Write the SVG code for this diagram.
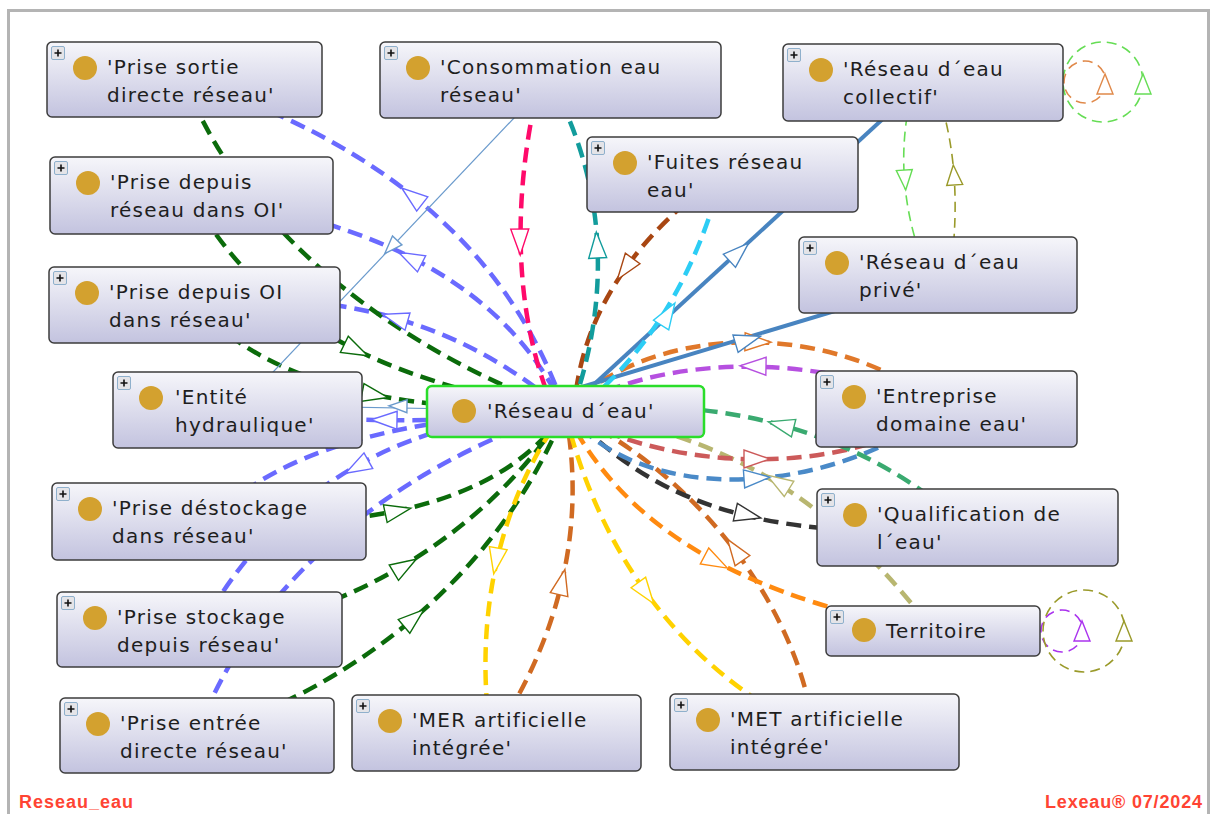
<svg xmlns="http://www.w3.org/2000/svg" xmlns:xlink="http://www.w3.org/1999/xlink" width="1210" height="814" viewBox="0 0 1210 814">
<defs>
<linearGradient id="g" x1="0" y1="0" x2="0" y2="1"><stop offset="0" stop-color="#f6f6fa"/><stop offset="1" stop-color="#c3c3df"/></linearGradient>
<g id="plus"><rect x="0.5" y="0.5" width="13" height="13" rx="1.5" fill="#e4e4e8" stroke="#8fb0cc" stroke-width="1"/><path d="M3.5,7h7M7,3.5v7" stroke="#111" stroke-width="1.6"/></g>
<path id="a" d="M13,0 L-13,-9 L-13,9 Z"/>
<path id="s" d="M10,0 L-10,-8 L-10,8 Z"/>
<path id="t" d="M9,0 L-9,-6.5 L-9,6.5 Z"/>
</defs>
<style>
.b{fill:url(#g);stroke:#3c3c3c;stroke-width:1.5}
.ctr{fill:url(#g);stroke:#2add2a;stroke-width:2.5}
.dot{fill:#d3a12f}
text{font-family:"DejaVu Sans","Liberation Sans",sans-serif;font-size:20px;letter-spacing:1.25px;fill:#1e1e1e}
.ft{font-family:"Liberation Sans",Arial,sans-serif;font-weight:bold;font-size:18px;letter-spacing:0;fill:#ff4433}
.c{fill:none;stroke-width:4.5;stroke-dasharray:15 8}
.sol{fill:none;stroke-width:4}
.thin{fill:none;stroke-width:1.2}
.loop{fill:none;stroke-width:1.6;stroke-dasharray:10 6}
.ar{fill:#fff;stroke-width:1.4}
.bl{stroke:#6a6aff}.gr{stroke:#0b6b0b}.pk{stroke:#ff0a6a}.tl{stroke:#129c9c}.si{stroke:#a84612}
.cy{stroke:#2ccdf5}.sb{stroke:#4884c0}.or{stroke:#ff8a10}.or2{stroke:#e0782a}.ch{stroke:#d06a22}
.pu{stroke:#b650e0}.sg{stroke:#3aaa70}.rd{stroke:#cc5a5a}.sd{stroke:#4a8ac8}.kh{stroke:#b8b670}
.bk{stroke:#333}.ye{stroke:#ffd200}.ts{stroke:#6a9acc}
.lg{stroke:#66dd55}.lo{stroke:#e0894a}.lp{stroke:#aa33ee}.lv{stroke:#9a9a2a}
</style>
<rect x="0" y="0" width="1210" height="814" fill="#fff"/>
<rect x="8.5" y="10.5" width="1200" height="820" fill="#fff" stroke="#b4b4b4" stroke-width="3"/>

<g id="connectors">
<path class="c bl" d="M184,79 Q485,175 565,411"/>
<path class="c bl" d="M191,196 Q482,232 565,411"/>
<path class="c bl" d="M194,305 Q410,278 565,411"/>
<path class="c gr" d="M184,79 C230,200 350,330 565,411"/>
<path class="c gr" d="M191,196 C230,260 300,370 565,411"/>
<path class="c gr" d="M194,305 C250,360 330,410 565,411"/>
<path class="thin ts" d="M550,80 L237,410"/>
<path class="thin ts" d="M565,411 L237,405"/>
<path class="c bl" d="M565,411 Q400,430 237,410"/>
<path class="c bl" d="M209,521 C260,470 350,420 565,411"/>
<path class="c bl" d="M199,630 C240,560 330,420 565,411"/>
<path class="c bl" d="M197,735 C230,640 330,490 565,411"/>
<path class="c gr" d="M209,521 C350,530 500,510 565,411"/>
<path class="c gr" d="M199,630 C300,630 470,560 565,411"/>
<path class="c gr" d="M197,735 C290,710 480,620 565,411"/>
<path class="c ye" d="M565,411 C520,470 470,580 490,733"/>
<path class="c ch" d="M496,733 C550,650 590,540 565,411"/>
<path class="c ye" d="M565,411 C590,520 660,660 814,732"/>
<path class="c ch" d="M814,732 C800,620 710,480 565,411"/>
<path class="c or" d="M565,411 C610,500 700,590 933,631"/>
<path class="c kh" d="M565,411 C700,430 820,480 933,631"/>
<path class="c bk" d="M565,411 C620,460 700,550 967,527"/>
<path class="c rd" d="M565,411 C640,460 820,490 946,409"/>
<path class="c sd" d="M565,411 C640,505 820,500 946,409"/>
<path class="c sg" d="M565,411 C700,395 850,420 967,527"/>
<path class="c pu" d="M565,411 C650,360 800,345 946,409"/>
<path class="c or2" d="M565,411 C640,330 820,310 946,409"/>
<path class="sol sb" d="M923,82 L565,411"/>
<path class="sol sb" d="M938,280 L565,392"/>
<path class="c cy" d="M722,175 Q685,315 595,395"/>
<path class="c si" d="M722,175 C650,225 585,300 575,400"/>
<path class="c tl" d="M550,80 C600,170 615,280 575,400"/>
<path class="c pk" d="M540,80 C515,180 510,300 550,400"/>
<path class="loop lg" d="M910,100 Q893,180 922,260"/>
<path class="loop lv" d="M952,260 Q962,170 940,100"/>
<circle class="loop lg" cx="1103" cy="82" r="40"/>
<circle class="loop lo" cx="1085" cy="82" r="21"/>
<circle class="loop lp" cx="1062" cy="631" r="21"/>
<circle class="loop lv" cx="1084" cy="631" r="41"/>

<use href="#a" class="ar" stroke="#6a6aff" transform="translate(412,196) rotate(218)"/>
<use href="#a" class="ar" stroke="#6a6aff" transform="translate(410,258) rotate(207)"/>
<use href="#a" class="ar" stroke="#6a6aff" transform="translate(395,318) rotate(196)"/>
<use href="#a" class="ar" stroke="#0b6b0b" transform="translate(356,350) rotate(26)"/>
<use href="#a" class="ar" stroke="#0b6b0b" transform="translate(375,395) rotate(11)"/>
<use href="#t" class="ar" stroke="#6a9acc" transform="translate(391,247) rotate(133.5)"/>
<use href="#t" class="ar" stroke="#6a9acc" transform="translate(398,406) rotate(181)"/>
<use href="#a" class="ar" stroke="#6a6aff" transform="translate(384,420) rotate(181)"/>
<use href="#a" class="ar" stroke="#6a6aff" transform="translate(357,467) rotate(151)"/>
<use href="#a" class="ar" stroke="#0b6b0b" transform="translate(398,511) rotate(-12)"/>
<use href="#a" class="ar" stroke="#0b6b0b" transform="translate(405,566) rotate(-31)"/>
<use href="#a" class="ar" stroke="#0b6b0b" transform="translate(414,618) rotate(-40)"/>
<use href="#a" class="ar" stroke="#ffd200" transform="translate(496,561) rotate(100)"/>
<use href="#a" class="ar" stroke="#d06a22" transform="translate(562,582) rotate(-77)"/>
<use href="#a" class="ar" stroke="#ffd200" transform="translate(646,593) rotate(54)"/>
<use href="#a" class="ar" stroke="#d06a22" transform="translate(735,550) rotate(-125)"/>
<use href="#a" class="ar" stroke="#ff8a10" transform="translate(716,562) rotate(28)"/>
<use href="#a" class="ar" stroke="#b8b670" transform="translate(778,482) rotate(212)"/>
<use href="#a" class="ar" stroke="#333" transform="translate(748,515) rotate(13)"/>
<use href="#a" class="ar" stroke="#cc5a5a" transform="translate(757,459) rotate(0)"/>
<use href="#a" class="ar" stroke="#4a8ac8" transform="translate(757,478) rotate(-4)"/>
<use href="#a" class="ar" stroke="#3aaa70" transform="translate(781,425) rotate(194)"/>
<use href="#a" class="ar" stroke="#b650e0" transform="translate(753,366) rotate(181)"/>
<use href="#a" class="ar" stroke="#e0782a" transform="translate(758,342) rotate(1)"/>
<use href="#a" class="ar" stroke="#4884c0" transform="translate(739,252) rotate(-42.6)"/>
<use href="#a" class="ar" stroke="#4884c0" transform="translate(748,340) rotate(-16.7)"/>
<use href="#a" class="ar" stroke="#2ccdf5" transform="translate(668,314) rotate(-58)"/>
<use href="#a" class="ar" stroke="#a84612" transform="translate(625,269) rotate(126)"/>
<use href="#a" class="ar" stroke="#129c9c" transform="translate(597,245) rotate(-93)"/>
<use href="#a" class="ar" stroke="#ff0a6a" transform="translate(520,242) rotate(89)"/>
<use href="#s" class="ar" stroke="#66dd55" transform="translate(905,180) rotate(86)"/>
<use href="#s" class="ar" stroke="#9a9a2a" transform="translate(954,175) rotate(-94)"/>
<use href="#s" class="ar" stroke="#66dd55" transform="translate(1143,84) rotate(-90)"/>
<use href="#s" class="ar" stroke="#e0894a" transform="translate(1105,84) rotate(-90)"/>
<use href="#s" class="ar" stroke="#aa33ee" transform="translate(1082,631) rotate(-90)"/>
<use href="#s" class="ar" stroke="#9a9a2a" transform="translate(1124,631) rotate(-90)"/>
</g>

<g id="n-prise-sortie"><rect class="b" x="47" y="42" width="275" height="75" rx="5"/><use href="#plus" x="51" y="46"/><circle class="dot" cx="85" cy="68" r="12"/><text x="107" y="74">'Prise sortie</text><text x="107" y="102">directe réseau'</text></g>
<g id="n-consommation"><rect class="b" x="380" y="42" width="341" height="76" rx="5"/><use href="#plus" x="384" y="46"/><circle class="dot" cx="418" cy="68" r="12"/><text x="440" y="74">'Consommation eau</text><text x="440" y="102">réseau'</text></g>
<g id="n-collectif"><rect class="b" x="783" y="44" width="280" height="77" rx="5"/><use href="#plus" x="787" y="48"/><circle class="dot" cx="821" cy="70" r="12"/><text x="843" y="76">'Réseau d´eau</text><text x="843" y="104">collectif'</text></g>
<g id="n-fuites"><rect class="b" x="587" y="137" width="271" height="75" rx="5"/><use href="#plus" x="591" y="141"/><circle class="dot" cx="625" cy="163" r="12"/><text x="647" y="169">'Fuites réseau</text><text x="647" y="197">eau'</text></g>
<g id="n-prise-depuis-reseau"><rect class="b" x="50" y="157" width="283" height="77" rx="5"/><use href="#plus" x="54" y="161"/><circle class="dot" cx="88" cy="183" r="12"/><text x="110" y="189">'Prise depuis</text><text x="110" y="217">réseau dans OI'</text></g>
<g id="n-prive"><rect class="b" x="799" y="237" width="278" height="76" rx="5"/><use href="#plus" x="803" y="241"/><circle class="dot" cx="837" cy="263" r="12"/><text x="859" y="269">'Réseau d´eau</text><text x="859" y="297">privé'</text></g>
<g id="n-prise-depuis-oi"><rect class="b" x="49" y="267" width="291" height="76" rx="5"/><use href="#plus" x="53" y="271"/><circle class="dot" cx="87" cy="293" r="12"/><text x="109" y="299">'Prise depuis OI</text><text x="109" y="327">dans réseau'</text></g>
<g id="n-entite"><rect class="b" x="113" y="372" width="249" height="76" rx="5"/><use href="#plus" x="117" y="376"/><circle class="dot" cx="151" cy="398" r="12"/><text x="175" y="404">'Entité</text><text x="175" y="432">hydraulique'</text></g>
<g id="n-reseau-eau"><rect class="ctr" x="427" y="386" width="277" height="51" rx="5"/><circle class="dot" cx="464" cy="411" r="12"/><text x="487" y="418">'Réseau d´eau'</text></g>
<g id="n-entreprise"><rect class="b" x="816" y="371" width="261" height="76" rx="5"/><use href="#plus" x="820" y="375"/><circle class="dot" cx="854" cy="397" r="12"/><text x="876" y="403">'Entreprise</text><text x="876" y="431">domaine eau'</text></g>
<g id="n-destockage"><rect class="b" x="52" y="483" width="314" height="77" rx="5"/><use href="#plus" x="56" y="487"/><circle class="dot" cx="90" cy="509" r="12"/><text x="112" y="515">'Prise déstockage</text><text x="112" y="543">dans réseau'</text></g>
<g id="n-qualification"><rect class="b" x="817" y="489" width="301" height="77" rx="5"/><use href="#plus" x="821" y="493"/><circle class="dot" cx="855" cy="515" r="12"/><text x="877" y="521">'Qualification de</text><text x="877" y="549">l´eau'</text></g>
<g id="n-stockage"><rect class="b" x="57" y="592" width="285" height="75" rx="5"/><use href="#plus" x="61" y="596"/><circle class="dot" cx="95" cy="618" r="12"/><text x="117" y="624">'Prise stockage</text><text x="117" y="652">depuis réseau'</text></g>
<g id="n-territoire"><rect class="b" x="826" y="606" width="214" height="50" rx="5"/><use href="#plus" x="830" y="610"/><circle class="dot" cx="864" cy="630" r="12"/><text x="886" y="638">Territoire</text></g>
<g id="n-prise-entree"><rect class="b" x="60" y="698" width="274" height="75" rx="5"/><use href="#plus" x="64" y="702"/><circle class="dot" cx="98" cy="724" r="12"/><text x="120" y="730">'Prise entrée</text><text x="120" y="758">directe réseau'</text></g>
<g id="n-mer"><rect class="b" x="352" y="695" width="289" height="76" rx="5"/><use href="#plus" x="356" y="699"/><circle class="dot" cx="390" cy="721" r="12"/><text x="412" y="727">'MER artificielle</text><text x="412" y="755">intégrée'</text></g>
<g id="n-met"><rect class="b" x="670" y="694" width="289" height="76" rx="5"/><use href="#plus" x="674" y="698"/><circle class="dot" cx="708" cy="720" r="12"/><text x="730" y="726">'MET artificielle</text><text x="730" y="754">intégrée'</text></g>

<text class="ft" x="19" y="808" textLength="114" lengthAdjust="spacing">Reseau_eau</text>
<text class="ft" x="1045" y="808" textLength="157" lengthAdjust="spacing">Lexeau® 07/2024</text>
</svg>
